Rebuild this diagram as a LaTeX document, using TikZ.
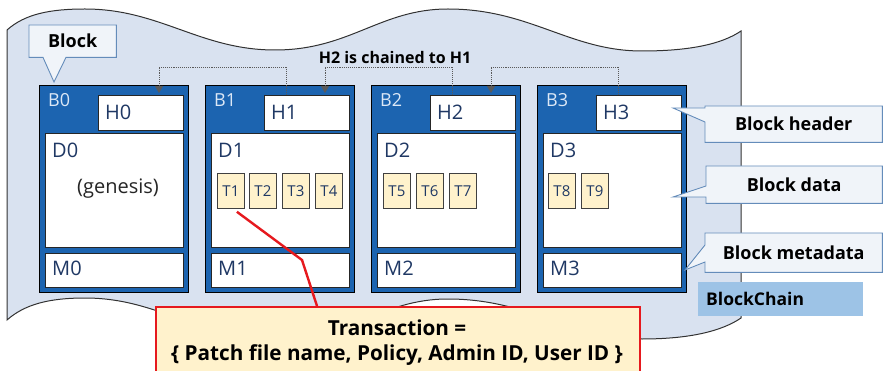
\documentclass[tikz,border=0pt]{standalone}
\usepackage{fontspec}
\setmainfont{Open Sans}
\usetikzlibrary{arrows.meta,calc}
\definecolor{bgblue}{RGB}{217,226,240}
\definecolor{wavel}{RGB}{50,50,50}
\definecolor{blockblue}{RGB}{28,100,176}
\definecolor{navy}{RGB}{31,56,100}
\definecolor{lbl}{RGB}{220,232,246}
\definecolor{txfill}{RGB}{255,242,204}
\definecolor{calfill}{RGB}{240,244,249}
\definecolor{calline}{RGB}{100,140,186}
\definecolor{chainfill}{RGB}{157,195,230}
\definecolor{redl}{RGB}{230,25,30}
\definecolor{dotc}{RGB}{90,90,90}
\begin{document}
\begin{tikzpicture}[x=1pt,y=-1pt,
  wave/.style={fill=bgblue, draw=wavel, line width=1pt},
  blockbox/.style={draw=black, line width=0.8pt, fill=blockblue, minimum width=149pt, minimum height=207pt, anchor=north west, inner sep=0pt},
  inbox/.style={draw=black!85, line width=0.8pt, fill=white, anchor=north west, inner sep=0pt},
  hbox/.style={inbox, minimum width=85pt, minimum height=35pt},
  dbox/.style={inbox, minimum width=138pt, minimum height=114pt},
  mbox/.style={inbox, minimum width=138pt, minimum height=34pt},
  tbox/.style={draw=black!75, line width=0.8pt, fill=txfill, anchor=north west, inner sep=0pt, minimum width=27pt, minimum height=35pt, text=navy, font=\fontsize{15}{17}\selectfont},
  blbl/.style={text=lbl, font=\fontsize{18}{20}\selectfont, inner sep=0pt, anchor=base west},
  nlbl/.style={text=navy, font=\fontsize{20}{22}\selectfont, inner sep=0pt, anchor=base west},
  calbox/.style={anchor=north west, inner sep=0pt},
  callout/.style={fill=calfill, draw=calline, line width=0.9pt},
  caltext/.style={font=\bfseries\fontsize{18}{20}\selectfont, text=black, inner sep=0pt},
  chainl/.style={draw=dotc, densely dotted, line width=0.9pt, -{Triangle[width=8pt,length=7pt]}},
  redline/.style={draw=redl, line width=2.4pt}
]
\useasboundingbox (0,0) rectangle (888,371);
\clip (0,0) rectangle (888,371);
% background wave
\draw[wave] (7,30) .. controls (25,14) and (50,9) .. (85,9)
  .. controls (160,9) and (200,50) .. (275,50)
  .. controls (350,50) and (380,9) .. (448,9)
  .. controls (530,9) and (570,51) .. (642,51)
  .. controls (690,51) and (722,44) .. (741,31)
  -- (741,318)
  .. controls (722,331) and (690,339) .. (642,339)
  .. controls (570,339) and (530,299) .. (448,299)
  .. controls (380,299) and (350,340) .. (275,340)
  .. controls (200,340) and (160,298) .. (85,298)
  .. controls (50,298) and (25,304) .. (7,320) -- cycle;
% blocks
\foreach \i/\L in {0/39,1/205,2/371,3/537} {
  \node[blockbox] (B\i) at (\L,85) {};
  \node[hbox] (H\i) at (\L+59,95) {};
  \node[dbox] (D\i) at (\L+6,133) {};
  \node[mbox] (M\i) at (\L+6,253) {};
  \node[blbl] (Bl\i) at (\L+9,107) {B\i};
  \node[nlbl] (Hl\i) at (\L+66,120) {H\i};
  \node[nlbl] (Dl\i) at (\L+13,158) {D\i};
  \node[nlbl] (Ml\i) at (\L+13,276) {M\i};
}
\node[text=black!85, font=\fontsize{20}{22}\selectfont, inner sep=0pt] (gen) at (118,189) {(genesis)};
% transactions
\foreach \t/\x in {1/217,2/249,3/282,4/315,5/383,6/416,7/449,8/548,9/581} {
  \node[tbox] (T\t) at (\x,173) {T\t};
}
% chain links
\foreach \a/\b in {1/0,2/1,3/2} {
  \draw[chainl] ($(B\a.north west)+(81,10)$) -- ($(B\a.north west)+(81,-18)$) -| ($(B\b.north west)+(120,8)$);
}
\node[font=\bfseries\fontsize{16}{18}\selectfont, inner sep=0pt] (chaintxt) at (395,58) {H2 is chained to H1};
% callouts
\node[calbox, minimum width=87pt, minimum height=32pt] (cBlock) at (29,25) {};
\coordinate (tipBlock) at (54,82);
\draw[callout] (cBlock.north west) -- (cBlock.north east) -- (cBlock.south east)
  -- ($(cBlock.south west)+(37,0)$) -- (tipBlock) -- ($(cBlock.south west)+(14,0)$) -- (cBlock.south west) -- cycle;
\node[caltext] (tBlock) at (cBlock.center) {Block};

\node[calbox, minimum width=177pt, minimum height=36pt] (cHdr) at (705,106) {};
\coordinate (tipHdr) at (673,108);
\draw[callout] (cHdr.north west) -- (cHdr.north east) -- (cHdr.south east) -- (cHdr.south west)
  -- ($(cHdr.north west)+(0,16)$) -- (tipHdr) -- ($(cHdr.north west)+(0,2)$) -- cycle;
\node[caltext] (tHdr) at (cHdr.center) {Block header};

\node[calbox, minimum width=176pt, minimum height=37pt] (cDat) at (706,166) {};
\coordinate (tipDat) at (673,197);
\draw[callout] (cDat.north west) -- (cDat.north east) -- (cDat.south east) -- (cDat.south west)
  -- ($(cDat.north west)+(0,31)$) -- (tipDat) -- ($(cDat.north west)+(0,20)$) -- cycle;
\node[caltext] (tDat) at (cDat.center) {Block data};

\node[calbox, minimum width=177pt, minimum height=39pt] (cMeta) at (705,233) {};
\coordinate (tipMeta) at (685,270);
\draw[callout] (cMeta.north west) -- (cMeta.north east) -- (cMeta.south east) -- (cMeta.south west)
  -- ($(cMeta.north west)+(0,29)$) -- (tipMeta) -- ($(cMeta.north west)+(0,12)$) -- cycle;
\node[caltext] (tMeta) at (cMeta.center) {Block metadata};

% BlockChain label
\node[anchor=north west, fill=chainfill, minimum width=165pt, minimum height=34pt, inner sep=0pt] (bc) at (698,282) {};
\node[font=\bfseries\fontsize{17.5}{19}\selectfont, anchor=west, inner sep=0pt] (bct) at (706,299) {BlockChain};

% transaction box
\node[anchor=north west, fill=txfill, draw=redl, line width=2.4pt, minimum width=484pt, minimum height=72pt, inner sep=0pt] (tx) at (155,306) {};
\node[font=\bfseries\fontsize{20.7}{22}\selectfont, inner sep=0pt] (tx1) at (397,328) {Transaction =};
\node[font=\bfseries\fontsize{20.7}{22}\selectfont, inner sep=0pt] (tx2) at (397,355) {\{ Patch file name, Policy, Admin ID, User ID \}};
\coordinate (bend) at (302,260);
\draw[redline] ($(T1.south)+(6,3)$) -- (bend) -- ($(tx.north west)+(162,0)$);
\end{tikzpicture}
\end{document}
